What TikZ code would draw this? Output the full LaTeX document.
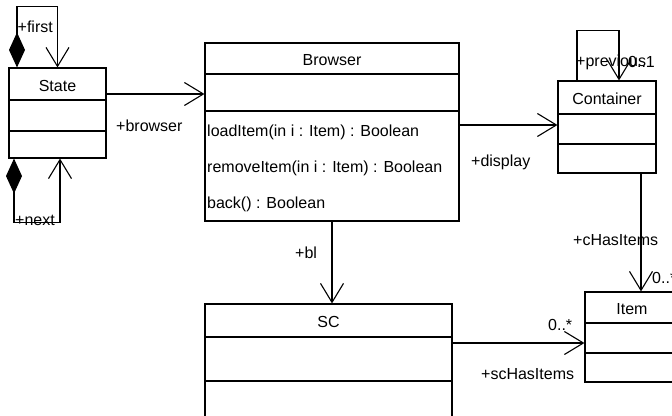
\documentclass[tikz,border=0pt]{standalone}
\usepackage{fontspec}
\setmainfont{Liberation Sans}
\usetikzlibrary{arrows.meta}
\begin{document}
\begin{tikzpicture}[x=1pt,y=-1pt,
  every node/.style={font=\fontsize{16}{19}\selectfont},
  cls/.style={draw, line width=1.1pt, inner sep=0pt, fill=white},
  sep/.style={line width=1.1pt},
  assoc/.style={line width=1.1pt, -{Straight Barb[length=19pt,width=23pt,line width=1.1pt]}},
  comp/.style={line width=1.1pt, {Diamond[length=35pt,width=16pt]}-{Straight Barb[length=19pt,width=23pt,line width=1.1pt]}},
  lbl/.style={anchor=west, inner sep=0pt},
  ttl/.style={inner sep=0pt}]
\useasboundingbox (0,0) rectangle (672,415);
% classes
\node[cls, minimum width=97pt, minimum height=90pt] (state) at (57.5,113) {};
\draw[sep] (9,100) -- (106,100) (9,131) -- (106,131);
\node[ttl] (statet) at (57.5,86) {State};

\node[cls, minimum width=254pt, minimum height=178pt] (browser) at (332,132) {};
\draw[sep] (205,74) -- (459,74) (205,111) -- (459,111);
\node[ttl] (browsert) at (332,60) {Browser};
\node[lbl] (m1) at (207,132) {loadItem(in i : Item) : Boolean};
\node[lbl] (m2) at (207,168) {removeItem(in i : Item) : Boolean};
\node[lbl] (m3) at (207,204) {back() : Boolean};

\node[cls, minimum width=98pt, minimum height=92pt] (container) at (607,127) {};
\draw[sep] (558,114) -- (656,114) (558,144) -- (656,144);
\node[ttl] (containert) at (607,99) {Container};

\node[cls, minimum width=95pt, minimum height=90pt] (item) at (632.5,337) {};
\draw[sep] (585,323) -- (680,323) (585,353) -- (680,353);
\node[ttl] (itemt) at (632,309) {Item};

\node[cls, minimum width=247pt, minimum height=121pt] (sc) at (328.5,364.5) {};
\draw[sep] (205,337) -- (452,337) (205,381) -- (452,381);
\node[ttl] (sct) at (328.5,322) {SC};

% connectors
\draw[comp] ([xshift=-40.5pt]state.north) -- ++(0,-61) -| (state.north);
\draw[comp] ([xshift=-43.5pt]state.south) -- ++(0,64) -| ([xshift=2.5pt]state.south);
\draw[assoc] ([xshift=-30pt]container.north) -- ++(0,-50) -| ([xshift=12pt]container.north);
\draw[assoc] ([yshift=19pt]state.east) -- ([yshift=19pt]state.east -| browser.west);
\draw[assoc] ([yshift=7pt]browser.east) -- ([yshift=7pt]browser.east -| container.west);
\draw[assoc] (browser.south) -- (browser.south |- sc.north);
\draw[assoc] ([xshift=34pt]container.south) -- ([xshift=34pt]container.south |- item.north);
\draw[assoc] ([yshift=21.5pt]sc.east) -- ([yshift=21.5pt]sc.east -| item.west);

% labels
\node[lbl] (lfirst) at (17.5,27) {+first};
\node[lbl] (lnext) at (15,220) {+next};
\node[lbl] (lprev) at (576,62) {+previous};
\node[lbl] (lprevm) at (628,62) {0..1};
\node[lbl] (lbrowser) at (116,126) {+browser};
\node[lbl] (ldisplay) at (471,162) {+display};
\node[lbl] (lbl) at (295,253) {+bl};
\node[lbl] (lchas) at (573,240) {+cHasItems};
\node[lbl] (lchasm) at (652,278) {0..*};
\node[lbl] (lscm) at (548,325) {0..*};
\node[lbl] (lsc) at (481,374) {+scHasItems};
\end{tikzpicture}
\end{document}
